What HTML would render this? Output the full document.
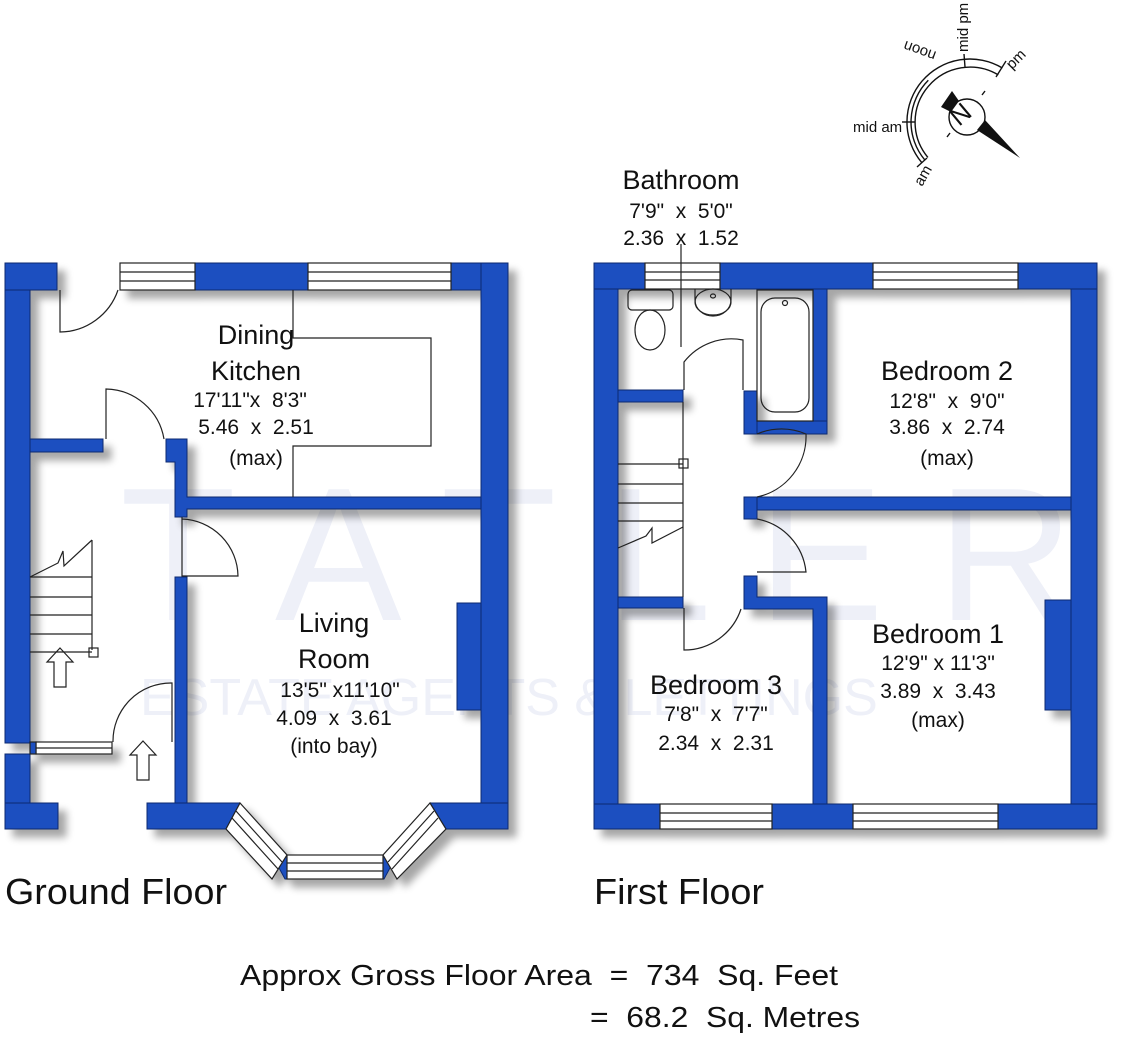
<!DOCTYPE html>
<html><head><meta charset="utf-8"><style>
html,body{margin:0;padding:0;background:#fff;}
svg{display:block;}
text{font-family:"Liberation Sans",Arial,sans-serif;fill:#111;white-space:pre;}
</style></head><body>
<svg width="1121" height="1040" viewBox="0 0 1121 1040" xmlns="http://www.w3.org/2000/svg" xml:space="preserve">
<defs>
<filter id="sh" x="-5%" y="-5%" width="115%" height="115%">
<feGaussianBlur in="SourceAlpha" stdDeviation="4"/>
<feOffset dx="8" dy="8" result="b"/>
<feComponentTransfer><feFuncA type="linear" slope="0.35"/></feComponentTransfer>
<feMerge><feMergeNode/><feMergeNode in="SourceGraphic"/></feMerge>
</filter>
</defs>

<!-- watermark -->
<text x="120" y="620" font-size="190" style="fill:#eef0f8" font-family="Liberation Serif,serif">T A T L E R</text>
<text x="140" y="715" font-size="52" style="fill:#eef0f8">ESTATE AGENTS &amp; LETTINGS</text>

<!-- ============ GROUND FLOOR ============ -->
<g filter="url(#sh)">
<g fill="#1d4fc0" stroke="#0b2a70" stroke-width="1">
<rect x="5" y="263" width="25" height="480"/>
<rect x="5" y="263" width="52" height="27"/>
<rect x="5" y="754" width="25" height="75"/>
<rect x="5" y="803" width="53" height="26"/>
<rect x="195" y="263" width="113" height="27"/>
<rect x="451" y="263" width="57" height="27"/>
<rect x="481" y="263" width="27" height="566"/>
<rect x="30" y="439" width="73" height="13"/>
<polygon points="166,439 187,439 187,497 481,497 481,509 187,509 187,517 175,517 175,462 166,462"/>
<rect x="175" y="577" width="12" height="252"/>
<rect x="147" y="803" width="93" height="26"/>
<rect x="430" y="803" width="78" height="26"/>
<rect x="457" y="603" width="24" height="107"/>
<polygon points="240,803 226,829 232,829 244,808"/>
<polygon points="272,855 287,855 287,879 285,879"/>
<polygon points="383,855 397,855 384,879 383,879"/>
<polygon points="430,803 446,829 440,829 427,808"/>
</g>
<g fill="#fff" stroke="#222" stroke-width="1.2">
<polygon points="240,803 287,855 272,879 226,829"/>
<line x1="236" y1="811" x2="282" y2="862"/><line x1="232" y1="818" x2="278" y2="869"/>
<rect x="287" y="855" width="96" height="24"/>
<line x1="287" y1="863" x2="383" y2="863"/><line x1="287" y1="871" x2="383" y2="871"/>
<polygon points="430,803 383,855 397,879 446,829"/>
<line x1="434" y1="811" x2="388" y2="862"/><line x1="438" y1="818" x2="392" y2="869"/>
</g>
<g fill="#fff" stroke="#222" stroke-width="1.2">
<rect x="120" y="263" width="75" height="27"/>
<line x1="120" y1="272" x2="195" y2="272"/><line x1="120" y1="281" x2="195" y2="281"/>
<rect x="308" y="263" width="143" height="27"/>
<line x1="308" y1="272" x2="451" y2="272"/><line x1="308" y1="281" x2="451" y2="281"/>
<rect x="36" y="742" width="76" height="12"/>
<line x1="36" y1="748" x2="112" y2="748"/>
<rect x="30" y="742" width="6" height="12" fill="#1d4fc0"/>
</g>
</g>

<g fill="none" stroke="#222" stroke-width="1.2">
<path d="M60 290 L60 332 A62 62 0 0 0 118 290"/>
<path d="M106 439 L106 389 A60 60 0 0 1 164 439"/>
<path d="M182 517 L182 576 L238 576 A58 58 0 0 0 182 519"/>
<path d="M113 742 A58 58 0 0 1 172 683 L172 742"/>
<polyline points="293,290 293,338 431,338 431,446 293,446 293,497"/>
<line x1="92" y1="540" x2="92" y2="650"/>
<line x1="30" y1="577" x2="92" y2="577"/>
<line x1="30" y1="597" x2="92" y2="597"/>
<line x1="30" y1="615" x2="92" y2="615"/>
<line x1="30" y1="634" x2="92" y2="634"/>
<line x1="30" y1="652" x2="92" y2="652"/>
<polyline points="30,577 58,563 63,551 64,566 92,540"/>
<rect x="89" y="648" width="9" height="9"/>
<polygon points="60,648 73,662 66,662 66,687 54,687 54,662 47,662"/>
<polygon points="143,741 156,755 149,755 149,780 137,780 137,755 130,755"/>
</g>

<!-- ============ FIRST FLOOR ============ -->
<g filter="url(#sh)">
<g fill="#1d4fc0" stroke="#0b2a70" stroke-width="1">
<rect x="594" y="263" width="24" height="566"/>
<rect x="1071" y="263" width="26" height="566"/>
<rect x="594" y="263" width="51" height="26"/>
<rect x="720" y="263" width="153" height="26"/>
<rect x="1018" y="263" width="79" height="26"/>
<rect x="594" y="804" width="66" height="25"/>
<rect x="772" y="804" width="81" height="25"/>
<rect x="998" y="804" width="99" height="25"/>
<rect x="813" y="289" width="14" height="145"/>
<rect x="744" y="421" width="83" height="13"/>
<rect x="744" y="391" width="13" height="43"/>
<rect x="618" y="390" width="65" height="12"/>
<rect x="744" y="497" width="327" height="13"/>
<rect x="744" y="497" width="13" height="22"/>
<rect x="618" y="597" width="65" height="11"/>
<polygon points="744,576 757,576 757,597 827,597 827,804 813,804 813,609 744,609"/>
<rect x="1045" y="600" width="26" height="110"/>
</g>
<g fill="#fff" stroke="#222" stroke-width="1.2">
<rect x="645" y="263" width="75" height="26"/>
<line x1="645" y1="272" x2="720" y2="272"/><line x1="645" y1="280" x2="720" y2="280"/>
<rect x="873" y="263" width="145" height="26"/>
<line x1="873" y1="272" x2="1018" y2="272"/><line x1="873" y1="280" x2="1018" y2="280"/>
<rect x="660" y="804" width="112" height="25"/>
<line x1="660" y1="813" x2="772" y2="813"/><line x1="660" y1="821" x2="772" y2="821"/>
<rect x="853" y="804" width="145" height="25"/>
<line x1="853" y1="813" x2="998" y2="813"/><line x1="853" y1="821" x2="998" y2="821"/>
</g>
</g>

<g fill="none" stroke="#222" stroke-width="1.2">
<rect x="628" y="290" width="45" height="20" rx="4"/>
<ellipse cx="650" cy="330" rx="15" ry="20"/>
<ellipse cx="713" cy="302" rx="18" ry="13"/>
<ellipse cx="713" cy="296" rx="2.5" ry="2"/>
<path d="M695 289 L695 300 A18 16 0 0 0 731 300 L731 289"/>
<rect x="757" y="290" width="56" height="131"/>
<rect x="761" y="298" width="48" height="114" rx="14"/>
<circle cx="785" cy="303" r="2.5"/>
<line x1="681" y1="244" x2="681" y2="347"/>
<path d="M684 390 L684 362 A60 60 0 0 1 743 340 L743 390"/>
<path d="M757 434 A62 62 0 0 1 806 434 A62 62 0 0 1 757 497" />
<path d="M757 519 A60 60 0 0 1 806 572 L757 572"/>
<path d="M684 608 L684 650 A60 60 0 0 0 741 609"/>
<line x1="683" y1="402" x2="683" y2="597"/>
<line x1="618" y1="464" x2="683" y2="464"/>
<line x1="618" y1="484" x2="683" y2="484"/>
<line x1="618" y1="503" x2="683" y2="503"/>
<line x1="618" y1="521" x2="683" y2="521"/>
<polyline points="618,548 646,536 652,528 652,543 683,527"/>
<rect x="679" y="459" width="9" height="9"/>
</g>

<!-- ============ COMPASS ============ -->
<g fill="none" stroke="#111" stroke-width="1.4">
<path d="M921.7 162.5 A63 63 0 0 1 1002.4 68"/>
<path d="M927.9 157.4 A55 55 0 0 1 998.3 74.9"/>
<path d="M924.8 159.9 A59 59 0 0 1 928.3 80.3"/>
<line x1="915" y1="122" x2="902" y2="122"/>
<line x1="965" y1="67" x2="964" y2="54"/>
<line x1="996" y1="77" x2="1006" y2="61"/>
<line x1="927" y1="158" x2="917" y2="167"/>
<circle cx="967" cy="117" r="18"/>
<line x1="982" y1="95" x2="985" y2="91"/>
<line x1="950" y1="133" x2="947" y2="137"/>
</g>
<polygon points="941,107 952,91 959,101 951,112" fill="#111"/>
<polygon points="977,130 985,120 1020,158" fill="#111"/>
<text x="0" y="0" font-size="26" transform="translate(959,127) rotate(-40)" font-family="Liberation Serif,serif">N</text>
<g font-size="15">
<text x="853" y="132">mid am</text>
<text x="0" y="0" transform="translate(937,52) rotate(200)">noon</text>
<text x="0" y="0" transform="translate(968,52) rotate(-90)">mid pm</text>
<text x="0" y="0" transform="translate(1012,70) rotate(-45)">pm</text>
<text x="0" y="0" transform="translate(922,187) rotate(-60)">am</text>
</g>

<!-- ============ LABELS ============ -->
<g text-anchor="middle">
<text x="256" y="344" font-size="27">Dining</text>
<text x="256" y="380" font-size="27">Kitchen</text>
<text x="250" y="407" font-size="21">17'11"x  8'3"</text>
<text x="256" y="434" font-size="21">5.46  x  2.51</text>
<text x="256" y="465" font-size="21">(max)</text>

<text x="334" y="632" font-size="27">Living</text>
<text x="334" y="668" font-size="27">Room</text>
<text x="340" y="697" font-size="21">13'5" x11'10"</text>
<text x="334" y="725" font-size="21">4.09  x  3.61</text>
<text x="334" y="753" font-size="21">(into bay)</text>

<text x="681" y="189" font-size="27">Bathroom</text>
<text x="681" y="218" font-size="21">7'9"  x  5'0"</text>
<text x="681" y="245" font-size="21">2.36  x  1.52</text>

<text x="947" y="380" font-size="27">Bedroom 2</text>
<text x="947" y="408" font-size="21">12'8"  x  9'0"</text>
<text x="947" y="434" font-size="21">3.86  x  2.74</text>
<text x="947" y="465" font-size="21">(max)</text>

<text x="938" y="643" font-size="27">Bedroom 1</text>
<text x="938" y="670" font-size="21">12'9" x 11'3"</text>
<text x="938" y="698" font-size="21">3.89  x  3.43</text>
<text x="938" y="727" font-size="21">(max)</text>

<text x="716" y="694" font-size="27">Bedroom 3</text>
<text x="716" y="721" font-size="21">7'8"  x  7'7"</text>
<text x="716" y="750" font-size="21">2.34  x  2.31</text>
</g>

<text x="5" y="904" font-size="36" textLength="222" lengthAdjust="spacingAndGlyphs">Ground Floor</text>
<text x="594" y="904" font-size="36" textLength="170" lengthAdjust="spacingAndGlyphs">First Floor</text>

<text x="240" y="985" font-size="29" textLength="598" lengthAdjust="spacingAndGlyphs">Approx Gross Floor Area  =  734  Sq. Feet</text>
<text x="590" y="1027" font-size="29" textLength="270" lengthAdjust="spacingAndGlyphs">=  68.2  Sq. Metres</text>
</svg>
</body></html>
